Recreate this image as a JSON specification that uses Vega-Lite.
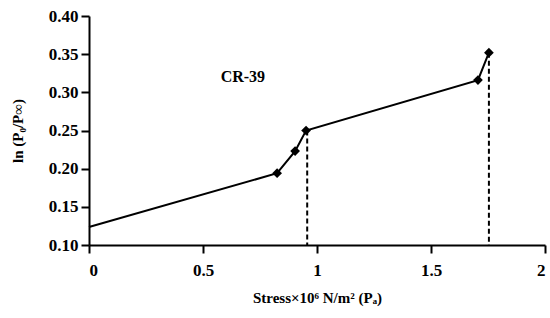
{
  "$schema": "https://vega.github.io/schema/vega-lite/v6.json",
  "width": 456,
  "height": 229,
  "autosize": {"type": "none"},
  "padding": {"left": 89, "top": 16, "right": 5, "bottom": 73},
  "background": "white",
  "config": {
    "view": {"stroke": null},
    "font": "Liberation Serif",
    "axis": {
      "grid": false,
      "domainColor": "black",
      "domainWidth": 2,
      "tickColor": "black",
      "tickWidth": 2,
      "tickSize": 8,
      "labelFont": "Liberation Serif",
      "labelFontWeight": "bold",
      "labelFontSize": 17,
      "labelColor": "black",
      "titleFont": "Liberation Serif",
      "titleFontWeight": "bold",
      "titleFontSize": 15,
      "titleColor": "black"
    }
  },
  "datasets": {
    "curve": [
      {"x": 0, "y": 0.1236, "marker": false},
      {"x": 0.825, "y": 0.194, "marker": true},
      {"x": 0.904, "y": 0.223, "marker": true},
      {"x": 0.952, "y": 0.250, "marker": true},
      {"x": 1.706, "y": 0.316, "marker": true},
      {"x": 1.754, "y": 0.352, "marker": true}
    ],
    "drops": [
      {"x": 0.957, "y": 0.250, "y0": 0.10},
      {"x": 1.754, "y": 0.352, "y0": 0.10}
    ],
    "labels": [
      {"x": 0.675, "y": 0.32, "text": "CR-39"}
    ]
  },
  "layer": [
    {
      "data": {"name": "drops"},
      "mark": {"type": "rule", "color": "black", "strokeWidth": 2, "strokeDash": [5, 3]},
      "encoding": {
        "x": {"field": "x", "type": "quantitative"},
        "y": {"field": "y", "type": "quantitative"},
        "y2": {"field": "y0"}
      }
    },
    {
      "data": {"name": "curve"},
      "mark": {"type": "line", "color": "black", "strokeWidth": 2, "interpolate": "linear"},
      "encoding": {
        "x": {
          "field": "x", "type": "quantitative",
          "scale": {"domain": [0, 2], "nice": false},
          "axis": {"values": [0, 0.5, 1, 1.5, 2], "format": "~g", "labelOverlap": false, "title": "Stress×10⁶ N/m² (Pₐ)", "labelPadding": 9, "titlePadding": 12}
        },
        "y": {
          "field": "y", "type": "quantitative",
          "scale": {"domain": [0.1, 0.4], "nice": false, "zero": false},
          "axis": {"values": [0.1, 0.15, 0.2, 0.25, 0.3, 0.35, 0.4], "tickCount": 7, "format": ".2f", "labelOverlap": false, "labelBound": false, "title": "ln (P₀/P∞)", "labelPadding": 3, "titlePadding": 23}
        }
      }
    },
    {
      "data": {"name": "curve"},
      "transform": [{"filter": "datum.marker"}],
      "mark": {"type": "point", "shape": "diamond", "filled": true, "color": "black", "size": 95, "opacity": 1},
      "encoding": {
        "x": {"field": "x", "type": "quantitative"},
        "y": {"field": "y", "type": "quantitative"}
      }
    },
    {
      "data": {"name": "labels"},
      "mark": {"type": "text", "font": "Liberation Serif", "fontWeight": "bold", "fontSize": 16, "color": "black"},
      "encoding": {
        "x": {"field": "x", "type": "quantitative"},
        "y": {"field": "y", "type": "quantitative"},
        "text": {"field": "text"}
      }
    }
  ]
}
